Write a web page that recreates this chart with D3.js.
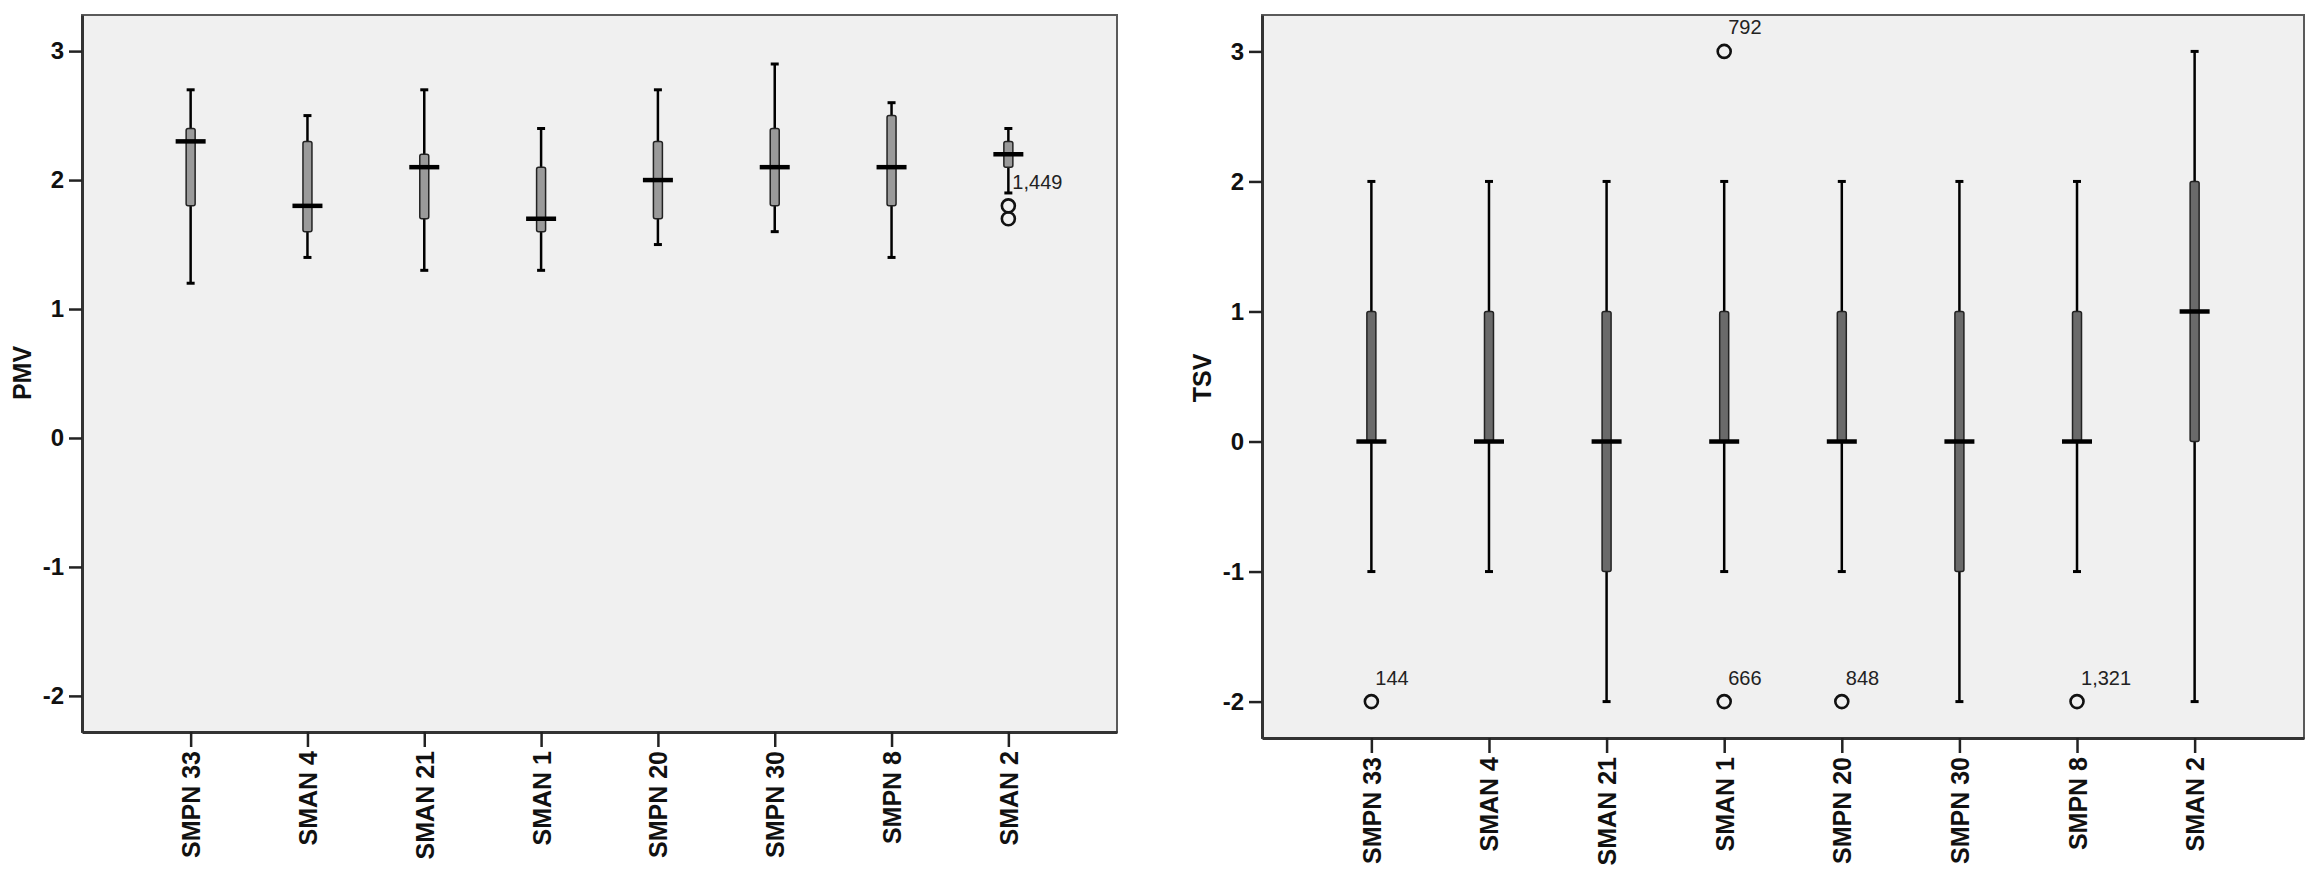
<!DOCTYPE html>
<html>
<head>
<meta charset="utf-8">
<script src="https://cdn.jsdelivr.net/npm/d3@7"></script>
<style>
  html, body { margin: 0; padding: 0; background: #fff; }
  svg { display: block; }
</style>
</head>
<body>
<svg id="chart" width="2316" height="871"></svg>
<script>
const categories = ['SMPN 33', 'SMAN 4', 'SMAN 21', 'SMAN 1', 'SMPN 20', 'SMPN 30', 'SMPN 8', 'SMAN 2'];
const yTicks = [-2, -1, 0, 1, 2, 3];

// PMV box plot values
const pmvLow = [1.2, 1.4, 1.3, 1.3, 1.5, 1.6, 1.4, 1.9];
const pmvQ1 = [1.8, 1.6, 1.7, 1.6, 1.7, 1.8, 1.8, 2.1];
const pmvMedian = [2.3, 1.8, 2.1, 1.7, 2.0, 2.1, 2.1, 2.2];
const pmvQ3 = [2.4, 2.3, 2.2, 2.1, 2.3, 2.4, 2.5, 2.3];
const pmvHigh = [2.7, 2.5, 2.7, 2.4, 2.7, 2.9, 2.6, 2.4];
const pmvOutliers = [
    { cat: 'SMAN 2', value: 1.8, label: '1,449' },
    { cat: 'SMAN 2', value: 1.7, label: '' }
];

// TSV box plot values
const tsvLow = [-1, -1, -2, -1, -1, -2, -1, -2];
const tsvQ1 = [0, 0, -1, 0, 0, -1, 0, 0];
const tsvMedian = [0, 0, 0, 0, 0, 0, 0, 1];
const tsvQ3 = [1, 1, 1, 1, 1, 1, 1, 2];
const tsvHigh = [2, 2, 2, 2, 2, 2, 2, 3];
const tsvOutliers = [
    { cat: 'SMPN 33', value: -2, label: '144' },
    { cat: 'SMAN 1', value: 3, label: '792' },
    { cat: 'SMAN 1', value: -2, label: '666' },
    { cat: 'SMPN 20', value: -2, label: '848' },
    { cat: 'SMPN 8', value: -2, label: '1,321' }
];

const svg = d3.select('#chart');

function drawPanel(opt) {
    const { x0, x1, y0, y1 } = opt;
    const g = svg.append('g');

    const x = d3.scalePoint().domain(categories).range([x0, x1]).padding(0.93);
    const y = d3.scaleLinear().domain([-2.28, 3.28]).range([y1, y0]);

    // plot area
    g.append('rect')
        .attr('x', x0).attr('y', y0)
        .attr('width', x1 - x0).attr('height', y1 - y0)
        .attr('fill', '#f0f0f0')
        .attr('stroke', '#5a5a5a')
        .attr('stroke-width', 2);

    // y axis
    const yAxis = g.append('g')
        .attr('transform', `translate(${x0},0)`)
        .call(d3.axisLeft(y).tickValues(yTicks).tickSize(13).tickSizeOuter(0).tickPadding(5)
            .tickFormat(d => String(d)));
    yAxis.select('.domain').attr('stroke', '#333').attr('stroke-width', 3);
    yAxis.selectAll('.tick line').attr('stroke', '#222').attr('stroke-width', 2.5);
    yAxis.selectAll('.tick text')
        .attr('font-family', "'Liberation Sans Narrow', 'Arial Narrow', 'Liberation Sans', Arial, sans-serif")
        .attr('font-weight', 'bold')
        .attr('font-size', '24px')
        .attr('fill', '#111');

    // x axis
    const xAxis = g.append('g')
        .attr('transform', `translate(0,${y1})`)
        .call(d3.axisBottom(x).tickSize(15).tickSizeOuter(0));
    xAxis.select('.domain').attr('stroke', '#333').attr('stroke-width', 3);
    xAxis.selectAll('.tick line').attr('stroke', '#222').attr('stroke-width', 2.5);
    xAxis.selectAll('.tick text')
        .attr('transform', 'rotate(-90)')
        .attr('x', -19).attr('y', 0).attr('dy', '0.36em')
        .style('text-anchor', 'end')
        .attr('font-family', "'Liberation Sans', Arial, sans-serif")
        .attr('font-weight', 'bold')
        .attr('font-size', '25px')
        .attr('fill', '#111');

    // axis title
    g.append('text')
        .attr('transform', `translate(${opt.titleX},${opt.titleY}) rotate(-90)`)
        .attr('text-anchor', 'middle')
        .attr('dy', '0.36em')
        .attr('font-family', "'Liberation Sans', Arial, sans-serif")
        .attr('font-weight', 'bold')
        .attr('font-size', '25px')
        .attr('fill', '#111')
        .text(opt.title);

    const rows = categories.map((c, i) => ({
        cat: c, low: opt.low[i], q1: opt.q1[i], med: opt.median[i], q3: opt.q3[i], high: opt.high[i]
    }));

    const boxW = 9, medW = 30, capW = 8;
    const boxes = g.selectAll('.box').data(rows).enter().append('g').attr('class', 'box');

    // whiskers
    boxes.append('line')
        .attr('x1', d => x(d.cat)).attr('x2', d => x(d.cat))
        .attr('y1', d => y(d.low)).attr('y2', d => y(d.high))
        .attr('stroke', '#000').attr('stroke-width', 2.5);
    boxes.selectAll('.cap')
        .data(d => [{ cat: d.cat, v: d.low }, { cat: d.cat, v: d.high }])
        .enter().append('line')
        .attr('x1', d => x(d.cat) - capW / 2).attr('x2', d => x(d.cat) + capW / 2)
        .attr('y1', d => y(d.v)).attr('y2', d => y(d.v))
        .attr('stroke', '#000').attr('stroke-width', 3);

    // boxes
    boxes.append('rect')
        .attr('x', d => x(d.cat) - boxW / 2)
        .attr('y', d => y(d.q3))
        .attr('width', boxW)
        .attr('height', d => y(d.q1) - y(d.q3))
        .attr('rx', 2)
        .attr('fill', opt.boxFill)
        .attr('stroke', '#222').attr('stroke-width', 1.5);

    // medians
    boxes.append('line')
        .attr('x1', d => x(d.cat) - medW / 2).attr('x2', d => x(d.cat) + medW / 2)
        .attr('y1', d => y(d.med)).attr('y2', d => y(d.med))
        .attr('stroke', '#000').attr('stroke-width', 4.5);

    // outliers
    g.selectAll('.outlier').data(opt.outliers).enter().append('circle')
        .attr('cx', d => x(d.cat)).attr('cy', d => y(d.value))
        .attr('r', 6.5)
        .attr('fill', 'none')
        .attr('stroke', '#111').attr('stroke-width', 2.6);

    g.selectAll('.outlier-label').data(opt.outliers.filter(d => d.label)).enter().append('text')
        .attr('x', d => x(d.cat) + 4)
        .attr('y', d => y(d.value) - 17)
        .attr('font-family', "'Liberation Sans', Arial, sans-serif")
        .attr('font-size', '20px')
        .attr('fill', '#222')
        .text(d => d.label);
}

drawPanel({
    x0: 82, x1: 1117, y0: 15, y1: 732,
    title: 'PMV', titleX: 22, titleY: 373,
    low: pmvLow, q1: pmvQ1, median: pmvMedian, q3: pmvQ3, high: pmvHigh,
    outliers: pmvOutliers, boxFill: '#9a9a9a'
});

drawPanel({
    x0: 1262, x1: 2304, y0: 15, y1: 738,
    title: 'TSV', titleX: 1202, titleY: 378,
    low: tsvLow, q1: tsvQ1, median: tsvMedian, q3: tsvQ3, high: tsvHigh,
    outliers: tsvOutliers, boxFill: '#6a6a6a'
});
</script>
</body>
</html>
